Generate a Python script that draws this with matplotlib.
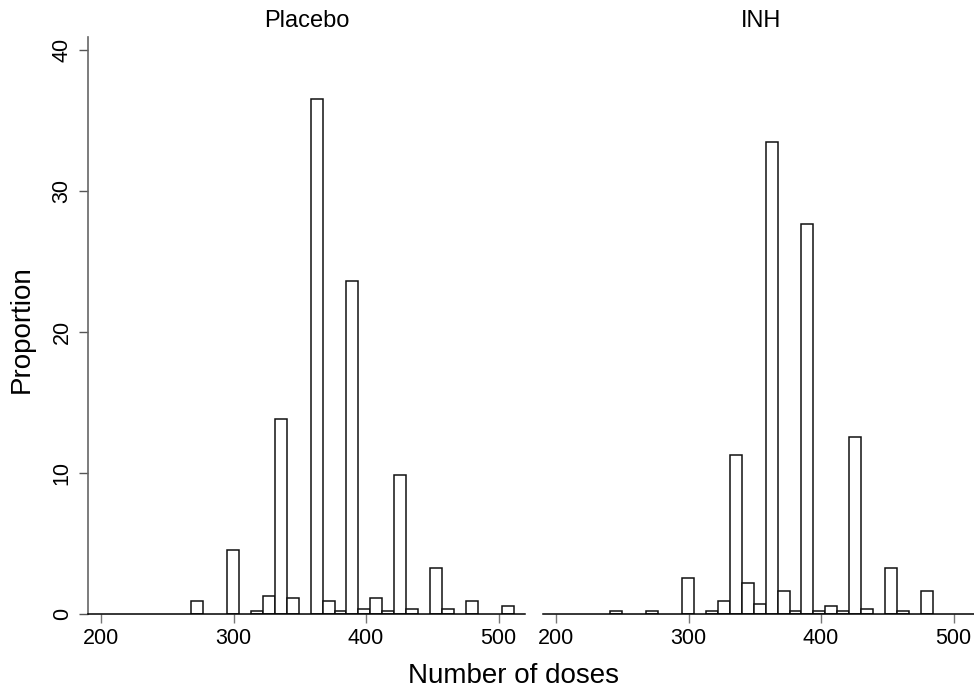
import numpy as np
import matplotlib
matplotlib.use("Agg")
import matplotlib.pyplot as plt

plt.rcParams['font.family'] = ['Liberation Sans', 'DejaVu Sans']

# histogram bins (number of doses)
bin_start = 240.4
bin_width = 9.05

# proportion (%) per bin, bin 0 .. 29
placebo = [0, 0, 0, 0.9, 0, 0, 4.56, 0, 0.21, 1.28,
           13.82, 1.11, 0, 36.52, 0.9, 0.21, 23.6, 0.38, 1.11, 0.21,
           9.83, 0.38, 0, 3.28, 0.38, 0, 0.9, 0, 0, 0.54]
inh = [0.21, 0, 0, 0.21, 0, 0, 2.55, 0, 0.21, 0.9,
       11.25, 2.2, 0.69, 33.43, 1.65, 0.21, 27.64, 0.21, 0.54, 0.21,
       12.54, 0.38, 0, 3.28, 0.21, 0, 1.65, 0, 0, 0]

panel_titles = ["Placebo", "INH"]
xticks = [200, 300, 400, 500]
yticks = [0, 10, 20, 30, 40]

fig = plt.figure(figsize=(9.74, 6.95), dpi=100)
W, H = 974.0, 695.0

ax_left = fig.add_axes([88 / W, 81 / H, 437 / W, 577 / H])
ax_right = fig.add_axes([543 / W, 81 / H, 437 / W, 577 / H])

for ax, vals, title in zip([ax_left, ax_right], [placebo, inh], panel_titles):
    vals = np.array(vals)
    lefts = bin_start + bin_width * np.arange(len(vals))
    keep = vals > 0
    ax.bar(lefts[keep], vals[keep], width=bin_width, align='edge',
           color='white', edgecolor='#111111', linewidth=1.1)
    ax.set_xlim(190, 520)
    ax.set_ylim(0, 40.9)
    ax.set_xticks(xticks)
    ax.tick_params(axis='x', length=6.2, width=1, color='#777777',
                   labelsize=15.5, pad=4)
    ax.set_title(title, fontsize=17, pad=7)
    ax.spines['top'].set_visible(False)
    ax.spines['right'].set_visible(False)
    ax.spines['bottom'].set_color('black')
    ax.spines['bottom'].set_linewidth(1.1)

ax_left.set_yticks(yticks)
ax_left.tick_params(axis='y', length=6.5, width=1, color='#555555',
                    labelsize=15.5, pad=4.5)
for lab in ax_left.get_yticklabels():
    lab.set_rotation(90)
    lab.set_va('center')
ax_left.spines['left'].set_color('#666666')
ax_left.spines['left'].set_linewidth(1.2)

ax_right.spines['left'].set_visible(False)
ax_right.set_yticks([])

fig.text(514 / W, 1 - 676 / H, "Number of doses", fontsize=20,
         ha='center', va='center')
fig.text(22 / W, 1 - 329 / H, "Proportion", fontsize=20,
         ha='center', va='center', rotation=90)

fig.savefig("out.png", dpi=100)
